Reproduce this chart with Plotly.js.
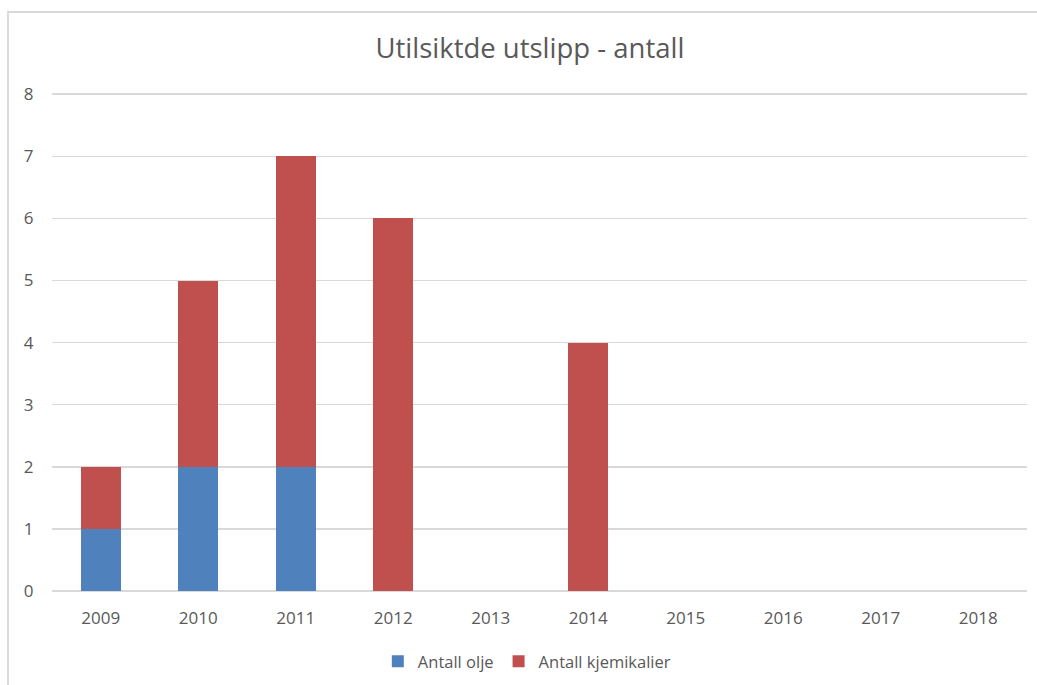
<!DOCTYPE html>
<html>
<head>
<meta charset="utf-8">
<script src="https://cdn.plot.ly/plotly-3.0.1.min.js"></script>
<style>
html,body{margin:0;padding:0;background:#fff;}
#wrap{position:relative;width:1037px;height:685px;overflow:hidden;}
#chart{width:1037px;height:685px;}
#frame{position:absolute;left:7px;top:11px;width:1100px;height:800px;border-left:2px solid #d9d9d9;border-top:2px solid #d9d9d9;pointer-events:none;}
</style>
</head>
<body>
<div id="wrap"><div id="chart"></div><div id="frame"></div></div>
<script>
const years = ['2009','2010','2011','2012','2013','2014','2015','2016','2017','2018'];
const antallOlje = [1,2,2,0,0,0,0,0,0,0];
const antallKjemikalier = [1,3,5,6,0,4,0,0,0,0];
const yTicks = [0,1,2,3,4,5,6,7,8];

const font = "Open Sans, Liberation Sans, sans-serif";
const data = [
  {type:'bar', name:'Antall olje', x:years, y:antallOlje, marker:{color:'#4F81BD'}, hoverinfo:'x+y+name'},
  {type:'bar', name:'Antall kjemikalier', x:years, y:antallKjemikalier, marker:{color:'#C0504D'}, hoverinfo:'x+y+name'}
];
const layout = {
  width:1037, height:685,
  barmode:'stack', bargap:0.59,
  paper_bgcolor:'rgba(0,0,0,0)', plot_bgcolor:'#fff',
  margin:{l:52, r:10, t:88, b:94, autoexpand:false},
  font:{family:font, color:'#595959', size:16},
  title:{text:'Utilsiktde utslipp - antall', font:{family:font, size:27.5, color:'#595959'}, x:0.511, xanchor:'center', y:0.929, yanchor:'middle'},
  xaxis:{type:'category', showgrid:false, zeroline:false, showline:false, ticks:'outside', ticklen:12, tickcolor:'rgba(0,0,0,0)', tickfont:{size:17, color:'#595959'}},
  yaxis:{range:[0,8.1], tickvals:yTicks, showgrid:true, gridcolor:'#d9d9d9', gridwidth:1.5, zeroline:true, zerolinecolor:'#d9d9d9', zerolinewidth:1.5, showline:false, ticks:'outside', ticklen:14, tickcolor:'rgba(0,0,0,0)', tickfont:{size:17, color:'#595959'}},
  legend:{orientation:'h', x:0.487, xanchor:'center', y:-0.14, yanchor:'middle', font:{size:16.5, color:'#595959'}, itemwidth:30, traceorder:'normal'},
  showlegend:true
};
Plotly.newPlot('chart', data, layout, {displayModeBar:false, staticPlot:true});
</script>
</body>
</html>
